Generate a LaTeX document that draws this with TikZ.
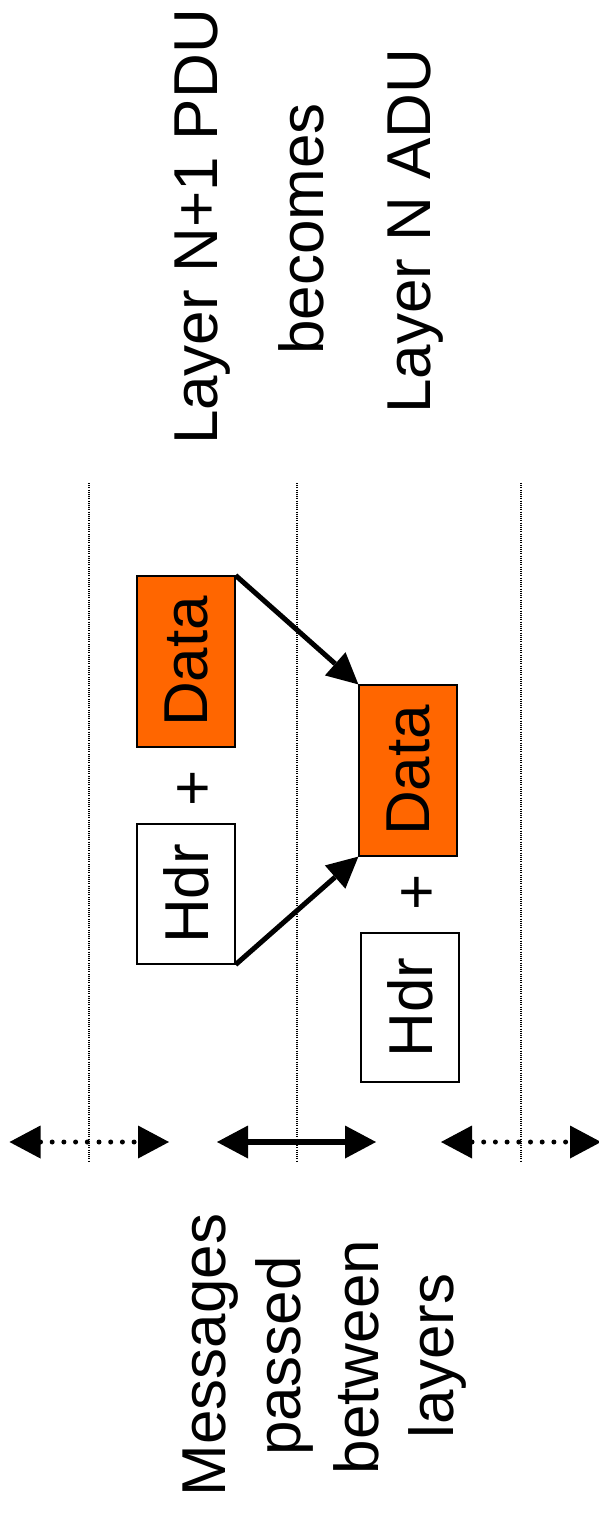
\documentclass[tikz,border=0pt]{standalone}
\usepackage{fontspec}
\setmainfont{Liberation Sans}
\usetikzlibrary{arrows.meta}
\definecolor{dataorange}{RGB}{255,102,0}
\begin{document}
\begin{tikzpicture}[x=1pt,y=-1pt,
  bigfont/.style={font=\fontsize{62}{70}\selectfont},
  vtext/.style={bigfont,rotate=90,anchor=base,inner sep=0pt,outer sep=0pt},
  pdubox/.style={bigfont,draw=black,line width=1.2pt,inner sep=0pt,minimum width=98pt},
  databox/.style={pdubox,fill=dataorange},
  hdrbox/.style={pdubox,fill=white},
  layerline/.style={line width=1.2pt,dash pattern=on 1pt off 1.2pt},
  flow/.style={line width=5pt,-{Triangle[length=31pt,width=31pt,line width=0pt]}},
  passarrow/.style={line width=6pt,{Triangle[length=31pt,width=33pt,line width=0pt]}-{Triangle[length=31pt,width=33pt,line width=0pt]}},
  peerarrow/.style={passarrow,line width=5pt,line cap=round,dash pattern=on 0pt off 11.7pt}]
\useasboundingbox (0,0) rectangle (598,1514);

% caption at the top
\node[vtext] (capA) at (217,227) {Layer N+1 PDU};
\node[vtext] (capB) at (323,229) {becomes};
\node[vtext] (capC) at (430,231) {Layer N ADU};

% layer boundaries
\coordinate (bound1top) at (89,483);  \coordinate (bound1bot) at (89,1161);
\coordinate (bound2top) at (297,483); \coordinate (bound2bot) at (297,1161);
\coordinate (bound3top) at (521,483); \coordinate (bound3bot) at (521,1161);
\draw[layerline] (bound1top) -- (bound1bot);
\draw[layerline] (bound2top) -- (bound2bot);
\draw[layerline] (bound3top) -- (bound3bot);

% upper layer PDU
\node[databox,minimum height=171pt] (dataA) at (186,661.5) {\rotatebox{90}{Data}};
\node[hdrbox,minimum height=140pt] (hdrA) at (186,894) {\rotatebox{90}{Hdr}};
\node[vtext] (plusA) at (213,788) {+};

% lower layer PDU
\node[databox,minimum height=171pt] (dataB) at (408,770.5) {\rotatebox{90}{Data}};
\node[hdrbox,minimum height=149pt] (hdrB) at (410,1007.5) {\rotatebox{90}{Hdr}};
\node[vtext] (plusB) at (437,892) {+};

% encapsulation
\draw[flow] (dataA.north east) -- (dataB.north west);
\draw[flow] (hdrA.south east) -- (dataB.south west);

% interactions across the layers
\coordinate (p1l) at (9.5,1142);  \coordinate (p1r) at (169,1142);
\coordinate (p2l) at (217,1142);  \coordinate (p2r) at (376,1142);
\coordinate (p3l) at (441,1142);  \coordinate (p3r) at (601,1142);
\draw[peerarrow] (p1l) -- (p1r);
\draw[passarrow] (p2l) -- (p2r);
\draw[peerarrow] (p3l) -- (p3r);

% side caption
\node[vtext] (sideA) at (225,1355) {Messages};
\node[vtext] (sideB) at (300,1356) {passed};
\node[vtext] (sideC) at (378,1357) {between};
\node[vtext] (sideD) at (453,1356) {layers};
\end{tikzpicture}
\end{document}
